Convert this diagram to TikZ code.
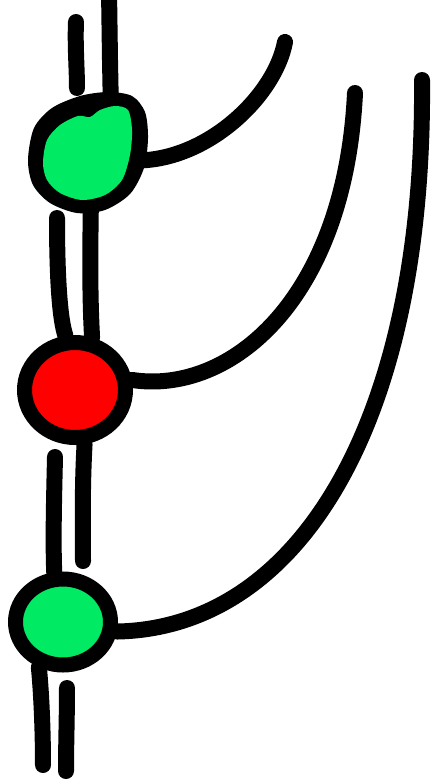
\documentclass[tikz,border=0pt]{standalone}
\usetikzlibrary{shapes.geometric}
\definecolor{blobgreen}{RGB}{0,234,100}
\definecolor{blobred}{RGB}{255,0,0}
\pgfdeclarelayer{back}
\pgfdeclarelayer{bg}
\pgfsetlayers{back,bg,main}
\begin{document}
\begin{tikzpicture}[x=1pt,y=-1pt,
  stroke/.style={line width=16pt, line cap=round, draw=black},
  blob/.style={ellipse, draw=black, line width=15pt, inner sep=0pt}]
\useasboundingbox (0,0) rectangle (433,784);
\begin{pgfonlayer}{back}
\fill[white] (0,0) rectangle (433,784);
\end{pgfonlayer}
% nodes
\node[ellipse, inner sep=0pt, minimum width=106pt, minimum height=108pt] (g1) at (88,153) {};
\fill[black] plot[smooth cycle] coordinates {(28,160) (34,128) (52,108) (80,96) (108,92) (132,96) (145,112) (148,138) (144,168) (130,194) (105,210) (77,213) (50,203) (33,185)};
\fill[blobgreen] plot[smooth cycle] coordinates {(43,163) (47,140) (60,125) (78,116) (90,117) (100,110) (115,106) (128,110) (132,130) (130,155) (122,180) (105,195) (82,200) (60,193) (47,180)};
\node[blob, fill=blobred, minimum width=101pt, minimum height=95pt] (r) at (75,390) {};
\node[blob, fill=blobgreen, minimum width=95pt, minimum height=86pt] (g2) at (63,622) {};
% free ends
\coordinate (a1) at (76,22);
\coordinate (a2) at (77,88);
\coordinate (b1) at (109,-10);
\coordinate (c1) at (57,218);
\coordinate (d1) at (55,457);
\coordinate (e1) at (83,561);
\coordinate (f1) at (43,765);
\coordinate (h1) at (67,688);
\coordinate (h2) at (66,771);
\coordinate (k1) at (285,42);
\coordinate (k2) at (355,93);
\coordinate (k3) at (422,80);
\begin{pgfonlayer}{bg}
% strands
\draw[stroke] (a1) .. controls (75,45) and (77,70) .. (a2);
\draw[stroke] (b1) -- (110,60) -- (g1.65);
\draw[stroke] (c1) .. controls (57,280) and (60,320) .. (r.100);
\draw[stroke] (g1.-87) .. controls (90,260) and (90,300) .. (r.72);
\draw[stroke] (d1) .. controls (54,500) and (53,540) .. (g2.100);
\draw[stroke] (r.-80) .. controls (82,490) and (83,530) .. (e1);
\draw[stroke] (g2.-118) .. controls (42,700) and (43,740) .. (f1);
\draw[stroke] (h1) .. controls (67,715) and (66,745) .. (h2);
% curves
\draw[stroke] (g1.-8) .. controls (210,158) and (275,95) .. (k1);
\draw[stroke] (r.10) .. controls (230,395) and (345,300) .. (k2);
\draw[stroke] (k3) .. controls (425,420) and (300,628) .. (g2.-10);
\end{pgfonlayer}
\end{tikzpicture}
\end{document}
